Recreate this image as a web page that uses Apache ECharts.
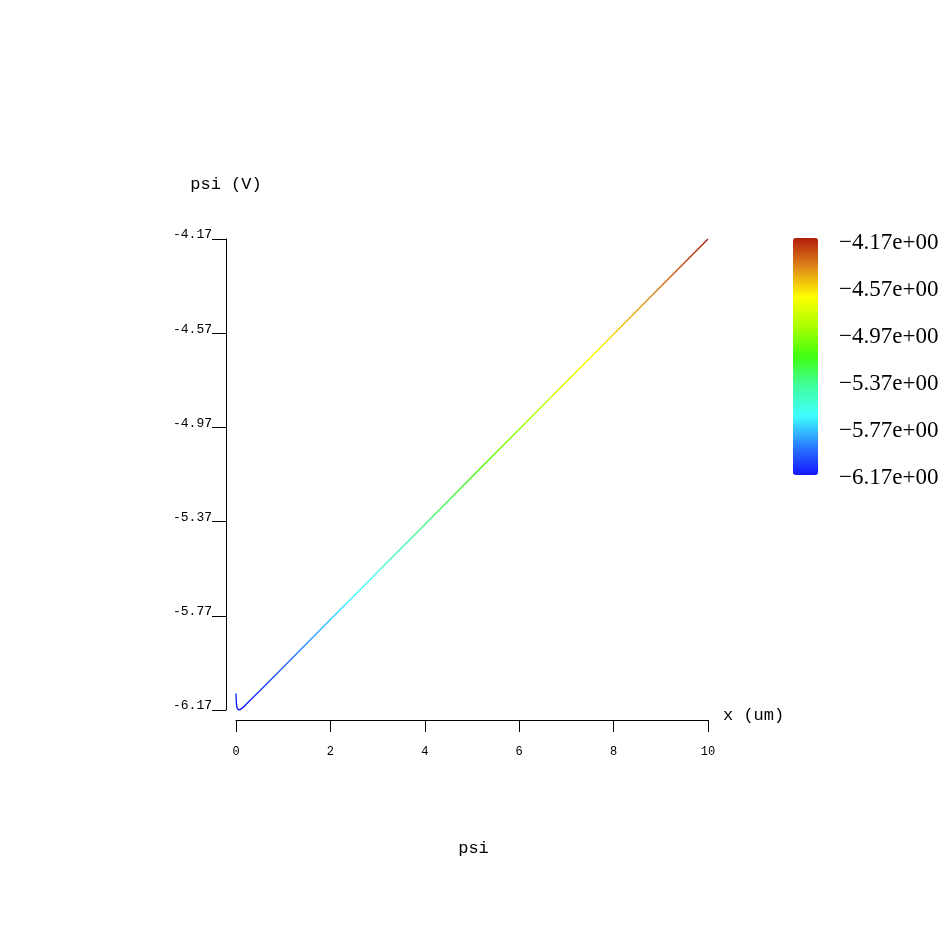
<!DOCTYPE html>
<html>
<head>
<meta charset="utf-8">
<script src="https://cdn.jsdelivr.net/npm/echarts@6/dist/echarts.min.js"></script>
<style>html,body{margin:0;padding:0;background:#fff;}#c{width:947px;height:947px;}</style>
</head>
<body>
<div id="c"></div>
<script>
// Data
const xValues = [0, 0.005, 0.01, 0.02, 0.03, 0.05, 0.07, 0.1, 0.15, 0.2, 0.3, 0.5, 1, 2, 3, 4, 5, 6, 7, 8, 9, 10];
const psiValues = [-6.100, -6.128, -6.145, -6.160, -6.166, -6.170, -6.170, -6.167, -6.159, -6.149, -6.129, -6.089, -5.988, -5.786, -5.584, -5.382, -5.180, -4.978, -4.776, -4.574, -4.372, -4.170];
const yTickValues = [-6.17, -5.77, -5.37, -4.97, -4.57, -4.17];
const yTickLabels = ['-6.17', '-5.77', '-5.37', '-4.97', '-4.57', '-4.17'];
const xTickValues = [0, 2, 4, 6, 8, 10];
const colorbarLabels = ['\u22126.17e+00', '\u22125.77e+00', '\u22125.37e+00', '\u22124.97e+00', '\u22124.57e+00', '\u22124.17e+00'];
const colorStops = ['#1414ff', '#2a80ff', '#40ffff', '#40ffa0', '#40ff10', '#a8ff00', '#ffff00', '#e08a18', '#b01c0c'];

const mono = 'Liberation Mono';
const chart = echarts.init(document.getElementById('c'), null, {renderer: 'canvas'});
const seriesData = xValues.map((x, i) => [x, psiValues[i]]);

chart.setOption({
  animation: false,
  backgroundColor: '#ffffff',
  title: {
    text: 'psi', left: 'center', top: 835,
    textStyle: {fontFamily: mono, fontSize: 17, fontWeight: 'normal', color: '#000'}
  },
  grid: [
    {left: 236, right: 947 - 708, top: 239, bottom: 947 - 710, containLabel: false},
    {left: 810, width: 10, top: 243, height: 235, containLabel: false}
  ],
  xAxis: [
    {
      type: 'value', gridIndex: 0, min: 0, max: 10, interval: 2, offset: 10,
      name: 'x (um)', nameLocation: 'end', nameGap: 15,
      nameTextStyle: {fontFamily: mono, fontSize: 17, color: '#000', verticalAlign: 'bottom', lineHeight: 10},
      axisLine: {show: true, onZero: false, lineStyle: {color: '#000', width: 1}},
      axisTick: {show: true, inside: false, length: 12, lineStyle: {color: '#000'}},
      axisLabel: {fontFamily: mono, fontSize: 12, color: '#000', margin: 26},
      splitLine: {show: false}
    },
    {type: 'value', gridIndex: 1, show: false, min: 0, max: 1}
  ],
  yAxis: [
    {
      type: 'value', gridIndex: 0, min: -6.17, max: -4.17, offset: 10,
      name: 'psi (V)', nameLocation: 'end', nameGap: 46,
      nameTextStyle: {fontFamily: mono, fontSize: 17, color: '#000', align: 'center'},
      axisLine: {show: true, onZero: false, lineStyle: {color: '#000', width: 1}},
      axisTick: {show: true, inside: false, length: 14, customValues: yTickValues, lineStyle: {color: '#000'}},
      axisLabel: {
        fontFamily: mono, fontSize: 13, color: '#000', margin: 14,
        customValues: yTickValues,
        verticalAlign: 'bottom', lineHeight: 8,
        formatter: function (v) {
          const i = yTickValues.findIndex(t => Math.abs(t - v) < 1e-6);
          return i >= 0 ? yTickLabels[i] : '';
        }
      },
      splitLine: {show: false}
    },
    {
      type: 'value', gridIndex: 1, min: -6.17, max: -4.17, position: 'right',
      axisLine: {show: false}, axisTick: {show: false}, splitLine: {show: false},
      axisLabel: {
        fontFamily: 'Liberation Serif', fontSize: 23, color: '#000', margin: 19,
        customValues: yTickValues,
        formatter: function (v) {
          const i = yTickValues.findIndex(t => Math.abs(t - v) < 1e-6);
          return i >= 0 ? colorbarLabels[i] : '';
        }
      }
    }
  ],
  visualMap: {
    type: 'continuous', seriesIndex: 0, dimension: 1,
    min: -6.17, max: -4.17, calculable: false, hoverLink: false,
    orient: 'vertical', left: 793, top: 238, itemWidth: 25, itemHeight: 237,
    padding: 0, text: null, showLabel: false,
    inRange: {color: colorStops}
  },
  series: [{
    type: 'line', xAxisIndex: 0, yAxisIndex: 0,
    data: seriesData, showSymbol: false, symbol: 'none',
    lineStyle: {width: 1.4}, smooth: false
  }]
});
</script>
</body>
</html>
